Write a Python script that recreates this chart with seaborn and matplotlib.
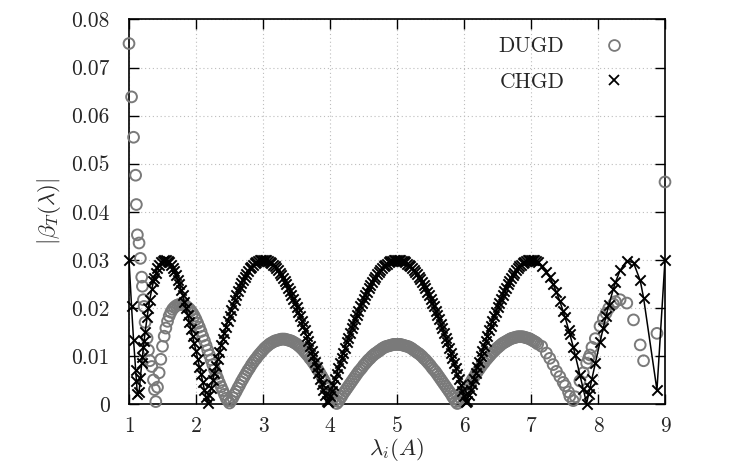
import numpy as np
import pandas as pd
import matplotlib
matplotlib.use("Agg")
import matplotlib.pyplot as plt
import seaborn as sns
from matplotlib.lines import Line2D

# ---------------- data ----------------
lam_left = [1.000, 1.038, 1.068, 1.099, 1.110, 1.125, 1.150, 1.170, 1.190, 1.200,
            1.215, 1.225, 1.240, 1.270, 1.290, 1.310, 1.340, 1.365, 1.380]
dugd_left = [0.0750, 0.0639, 0.0555, 0.0476, 0.0415, 0.0352, 0.0335, 0.0303, 0.0264, 0.0245,
             0.0217, 0.0203, 0.0170, 0.0137, 0.0112, 0.0090, 0.0078, 0.0050, 0.0030]
chgd_left = [0.0300, 0.0203, 0.0133, 0.0070, 0.0048, 0.0020, 0.0024, 0.0055, 0.0085, 0.0098,
             0.0119, 0.0131, 0.0149, 0.0180, 0.0200, 0.0217, 0.0239, 0.0255, 0.0262]

lam_mid = [1.40, 1.45, 1.50, 1.55, 1.60, 1.65, 1.70, 1.75, 1.80, 1.85, 1.90, 1.95,
           2.00, 2.05, 2.10, 2.15, 2.20, 2.25, 2.30, 2.35, 2.40, 2.45, 2.50,
           2.55, 2.60, 2.65, 2.70, 2.75, 2.80, 2.85, 2.90, 2.95, 3.00, 3.05, 3.10,
           3.15, 3.20, 3.25, 3.30, 3.35, 3.40, 3.45, 3.50, 3.55, 3.60, 3.65, 3.70,
           3.75, 3.80, 3.85, 3.90, 3.95, 4.00, 4.05, 4.10,
           4.15, 4.20, 4.25, 4.30, 4.35, 4.40, 4.45, 4.50, 4.55, 4.60, 4.65, 4.70,
           4.75, 4.80, 4.85, 4.90, 4.95, 5.00,
           5.05, 5.10, 5.15, 5.20, 5.25, 5.30, 5.35, 5.40, 5.45, 5.50, 5.55, 5.60,
           5.65, 5.70, 5.75, 5.80, 5.85, 5.90,
           5.95, 6.00, 6.05, 6.10, 6.15, 6.20, 6.25, 6.30, 6.35, 6.40, 6.45, 6.50,
           6.55, 6.60, 6.65, 6.70, 6.75, 6.80, 6.85, 6.90, 6.95, 7.00, 7.05, 7.10]
dugd_mid = [0.0005, 0.0065, 0.0120, 0.0158, 0.0183, 0.0197, 0.0204, 0.0207, 0.0207, 0.0204, 0.0198, 0.0189,
            0.0176, 0.0160, 0.0141, 0.0122, 0.0102, 0.0082, 0.0062, 0.0044, 0.0028, 0.0012, 0.0002,
            0.0013, 0.0026, 0.0039, 0.0052, 0.0064, 0.0075, 0.0086, 0.0095, 0.0104, 0.0112, 0.0119, 0.0125,
            0.0129, 0.0132, 0.0134, 0.0135, 0.0134, 0.0132, 0.0129, 0.0125, 0.0119, 0.0112, 0.0104, 0.0095,
            0.0086, 0.0075, 0.0064, 0.0052, 0.0039, 0.0026, 0.0013, 0.0001,
            0.0011, 0.0022, 0.0032, 0.0042, 0.0052, 0.0062, 0.0071, 0.0080, 0.0088, 0.0095, 0.0102, 0.0107,
            0.0112, 0.0117, 0.0120, 0.0122, 0.0124, 0.0124,
            0.0124, 0.0122, 0.0120, 0.0117, 0.0112, 0.0107, 0.0102, 0.0095, 0.0088, 0.0080, 0.0071, 0.0062,
            0.0052, 0.0042, 0.0032, 0.0022, 0.0011, 0.0001,
            0.0012, 0.0023, 0.0034, 0.0045, 0.0056, 0.0067, 0.0077, 0.0086, 0.0095, 0.0103, 0.0110, 0.0117,
            0.0123, 0.0128, 0.0132, 0.0136, 0.0138, 0.0140, 0.0140, 0.0139, 0.0137, 0.0134, 0.0130, 0.0125]
chgd_mid = [0.0272, 0.0289, 0.0298, 0.0300, 0.0295, 0.0284, 0.0268, 0.0249, 0.0226, 0.0200, 0.0171, 0.0141,
            0.0110, 0.0078, 0.0046, 0.0014, 0.0018, 0.0049, 0.0079, 0.0108, 0.0135, 0.0161, 0.0184,
            0.0206, 0.0226, 0.0243, 0.0258, 0.0271, 0.0282, 0.0290, 0.0295, 0.0299, 0.0300, 0.0299, 0.0296,
            0.0290, 0.0283, 0.0273, 0.0262, 0.0249, 0.0235, 0.0219, 0.0201, 0.0183, 0.0163, 0.0142, 0.0121,
            0.0099, 0.0076, 0.0053, 0.0030, 0.0007, 0.0016, 0.0040, 0.0062,
            0.0085, 0.0106, 0.0128, 0.0148, 0.0167, 0.0186, 0.0203, 0.0219, 0.0234, 0.0247, 0.0260, 0.0270,
            0.0279, 0.0287, 0.0292, 0.0297, 0.0299, 0.0300,
            0.0299, 0.0297, 0.0292, 0.0287, 0.0279, 0.0270, 0.0260, 0.0247, 0.0234, 0.0219, 0.0203, 0.0186,
            0.0167, 0.0148, 0.0128, 0.0106, 0.0085, 0.0062,
            0.0040, 0.0016, 0.0007, 0.0030, 0.0053, 0.0076, 0.0099, 0.0121, 0.0142, 0.0163, 0.0183, 0.0201,
            0.0219, 0.0235, 0.0249, 0.0262, 0.0273, 0.0283, 0.0290, 0.0296, 0.0299, 0.0300, 0.0299, 0.0295]

# second set of densely packed eigenvalues (between the ones above)
lam_mid2 = [1.425, 1.475, 1.525, 1.575, 1.625, 1.675, 1.725, 1.775, 1.825, 1.875, 1.925, 1.975,
            2.025, 2.075, 2.125, 2.175, 2.225, 2.275, 2.325, 2.375, 2.425, 2.475, 2.525,
            2.575, 2.625, 2.675, 2.725, 2.775, 2.825, 2.875, 2.925, 2.975, 3.025, 3.075, 3.125,
            3.175, 3.225, 3.275, 3.325, 3.375, 3.425, 3.475, 3.525, 3.575, 3.625, 3.675, 3.725,
            3.775, 3.825, 3.875, 3.925, 3.975, 4.025, 4.075, 4.125, 4.175, 4.225, 4.275, 4.325,
            4.375, 4.425, 4.475, 4.525, 4.575, 4.625, 4.675, 4.725, 4.775, 4.825, 4.875, 4.925, 4.975,
            5.025, 5.075, 5.125, 5.175, 5.225, 5.275, 5.325, 5.375, 5.425, 5.475, 5.525, 5.575,
            5.625, 5.675, 5.725, 5.775, 5.825, 5.875, 5.925, 5.975, 6.025, 6.075, 6.125, 6.175,
            6.225, 6.275, 6.325, 6.375, 6.425, 6.475, 6.525, 6.575, 6.625, 6.675, 6.725, 6.775,
            6.825, 6.875, 6.925, 6.975, 7.025, 7.075]
dugd_mid2 = [0.0035, 0.0093, 0.0141, 0.0172, 0.0191, 0.0201, 0.0206, 0.0207,
             0.0206, 0.0201, 0.0194, 0.0183, 0.0168, 0.0151, 0.0132, 0.0112, 0.0092, 0.0072, 0.0053, 0.0036,
             0.0020, 0.0007,
             0.0007, 0.0020, 0.0033, 0.0046, 0.0058, 0.0070, 0.0081, 0.0091, 0.0100, 0.0108, 0.0116, 0.0122,
             0.0127, 0.0131, 0.0133, 0.0135, 0.0135, 0.0133, 0.0131, 0.0127, 0.0122, 0.0116, 0.0108, 0.0100,
             0.0091, 0.0081, 0.0070, 0.0058, 0.0046, 0.0033, 0.0020, 0.0007,
             0.0005, 0.0016, 0.0027, 0.0037, 0.0047, 0.0057, 0.0067, 0.0075, 0.0084, 0.0092, 0.0099, 0.0105,
             0.0110, 0.0115, 0.0119, 0.0121, 0.0123, 0.0124,
             0.0124, 0.0123, 0.0121, 0.0119, 0.0115, 0.0110, 0.0105, 0.0099, 0.0092, 0.0084, 0.0075, 0.0067,
             0.0057, 0.0047, 0.0037, 0.0027, 0.0016, 0.0005,
             0.0006, 0.0018, 0.0029, 0.0040, 0.0051, 0.0062, 0.0072, 0.0082, 0.0091, 0.0099, 0.0107, 0.0114,
             0.0120, 0.0126, 0.0130, 0.0134, 0.0137, 0.0139, 0.0140, 0.0140, 0.0138, 0.0136, 0.0132, 0.0128]
chgd_mid2 = [0.0282, 0.0295, 0.0300, 0.0298, 0.0290, 0.0277, 0.0259, 0.0238, 0.0213, 0.0186, 0.0156, 0.0126,
             0.0094, 0.0062, 0.0030, 0.0002, 0.0034, 0.0064, 0.0094, 0.0122, 0.0148, 0.0173, 0.0196,
             0.0216, 0.0235, 0.0251, 0.0265, 0.0277, 0.0286, 0.0293, 0.0297, 0.0300, 0.0300, 0.0298, 0.0293,
             0.0287, 0.0278, 0.0268, 0.0256, 0.0242, 0.0227, 0.0210, 0.0192, 0.0173, 0.0153, 0.0132, 0.0110,
             0.0088, 0.0065, 0.0042, 0.0019, 0.0005, 0.0028, 0.0051, 0.0074, 0.0096, 0.0117, 0.0138, 0.0158,
             0.0177, 0.0194, 0.0211, 0.0227, 0.0241, 0.0254, 0.0265, 0.0275, 0.0283, 0.0290, 0.0295, 0.0298, 0.0300,
             0.0300, 0.0298, 0.0295, 0.0290, 0.0283, 0.0275, 0.0265, 0.0254, 0.0241, 0.0227, 0.0211, 0.0194,
             0.0177, 0.0158, 0.0138, 0.0117, 0.0096, 0.0074, 0.0051, 0.0028, 0.0005, 0.0019, 0.0042, 0.0065,
             0.0088, 0.0110, 0.0132, 0.0153, 0.0173, 0.0192, 0.0210, 0.0227, 0.0242, 0.0256, 0.0268, 0.0278,
             0.0287, 0.0293, 0.0298, 0.0300, 0.0300, 0.0297]

lam_right = [7.16, 7.23, 7.28, 7.33, 7.38, 7.43, 7.48, 7.51, 7.56, 7.58, 7.63, 7.66,
             7.73, 7.78, 7.83, 7.86, 7.88, 7.91, 7.96, 8.03, 8.08, 8.12, 8.16, 8.23,
             8.26, 8.33, 8.43, 8.53, 8.63, 8.68, 8.88, 9.00]
dugd_right = [0.0120, 0.0106, 0.0095, 0.0082, 0.0068, 0.0057, 0.0045, 0.0038, 0.0025, 0.0016, 0.0007, 0.0015,
              0.0048, 0.0065, 0.0085, 0.0095, 0.0102, 0.0118, 0.0136, 0.0162, 0.0178, 0.0189, 0.0199, 0.0208,
              0.0213, 0.0217, 0.0210, 0.0175, 0.0123, 0.0090, 0.0147, 0.0462]
chgd_right = [0.0288, 0.0275, 0.0264, 0.0249, 0.0233, 0.0214, 0.0193, 0.0180, 0.0155, 0.0145, 0.0119, 0.0102,
              0.0061, 0.0031, 0.0001, 0.0020, 0.0033, 0.0053, 0.0085, 0.0129, 0.0159, 0.0183, 0.0205, 0.0240,
              0.0253, 0.0278, 0.0298, 0.0294, 0.0257, 0.0221, 0.0029, 0.0300]

x_ticks = [1, 2, 3, 4, 5, 6, 7, 8, 9]
x_tick_labels = ["1", "2", "3", "4", "5", "6", "7", "8", "9"]
y_ticks = [0, 0.01, 0.02, 0.03, 0.04, 0.05, 0.06, 0.07, 0.08]
y_tick_labels = ["0", "0.01", "0.02", "0.03", "0.04", "0.05", "0.06", "0.07", "0.08"]
series_names = ["DUGD", "CHGD"]

lam = lam_left + lam_mid + lam_mid2 + lam_right
dugd = dugd_left + dugd_mid + dugd_mid2 + dugd_right
chgd = chgd_left + chgd_mid + chgd_mid2 + chgd_right
df = pd.DataFrame({"lam": lam, "DUGD": dugd, "CHGD": chgd}).sort_values("lam").reset_index(drop=True)

# ---------------- style ----------------
sns.set_style("ticks")
plt.rcParams["font.family"] = ["cmr10", "DejaVu Serif"]
plt.rcParams["mathtext.fontset"] = "cm"
plt.rcParams["axes.formatter.use_mathtext"] = True
plt.rcParams["axes.unicode_minus"] = False

fs = 15.5
gray = "#7a7a7a"

fig = plt.figure(figsize=(7.31, 4.73), dpi=100)
ax = fig.add_axes([129 / 731, 69 / 473, 536 / 731, 384.5 / 473])

# DUGD open circles
sns.scatterplot(data=df, x="lam", y="DUGD", ax=ax, marker="o", s=60,
                facecolor="none", edgecolor=gray, linewidth=1.4,
                clip_on=False, zorder=3, legend=False)
# CHGD line + crosses
sns.lineplot(data=df, x="lam", y="CHGD", ax=ax, sort=False, estimator=None,
             color="black", linewidth=1.1, zorder=4, legend=False)
sns.scatterplot(data=df, x="lam", y="CHGD", ax=ax, marker="x", s=55,
                color="black", linewidth=1.4, clip_on=False, zorder=5, legend=False)

ax.set_xlim(1, 9)
ax.set_ylim(0, 0.08)
ax.set_xticks(x_ticks)
ax.set_xticklabels(x_tick_labels)
ax.set_yticks(y_ticks)
ax.set_yticklabels(y_tick_labels)
ax.tick_params(axis="both", which="major", direction="in", length=7, width=1.0,
               top=True, right=True, labelsize=fs, color="black")
ax.tick_params(axis="x", pad=9)
ax.tick_params(axis="y", pad=14)
for sp in ax.spines.values():
    sp.set_linewidth(1.2)
    sp.set_color("black")
    sp.set_visible(True)

ax.grid(True, linestyle=(0, (1, 2.5)), color="#bdbdbd", linewidth=0.8)
ax.set_axisbelow(True)

ax.set_xlabel(r"$\lambda_i(A)$", fontsize=fs + 1, labelpad=0)
ax.set_ylabel(r"$|\beta_T(\lambda)|$", fontsize=fs + 1, labelpad=6)

handles = [
    Line2D([], [], linestyle="none", marker="o", markersize=7.8, markerfacecolor="none",
           markeredgecolor=gray, markeredgewidth=1.3),
    Line2D([], [], linestyle="none", marker="x", markersize=6.5, color="black",
           markeredgewidth=1.3),
]
leg = ax.legend(handles, series_names, loc="upper right", bbox_to_anchor=(0.925, 0.955),
                frameon=False, markerfirst=False, fontsize=fs, handlelength=1.0,
                handletextpad=1.8, labelspacing=0.75, borderpad=0.0, borderaxespad=0.0)

fig.savefig("out.png", dpi=100)
